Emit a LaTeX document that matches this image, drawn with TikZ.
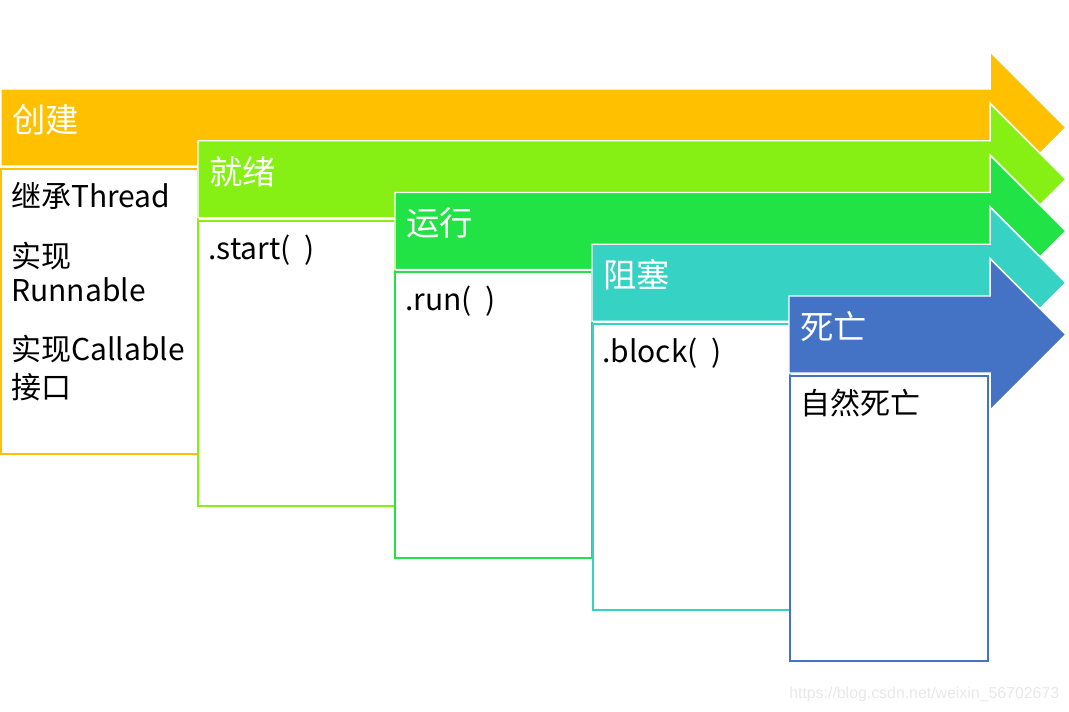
\documentclass[tikz,border=0pt]{standalone}
\usepackage{fontspec}
\setmainfont{Noto Sans CJK SC}
\newfontfamily\wmfont{Liberation Sans}
\definecolor{cA}{HTML}{FFC000}
\definecolor{cB}{HTML}{86F014}
\definecolor{cC}{HTML}{22E346}
\definecolor{cD}{HTML}{36D3C5}
\definecolor{cE}{HTML}{4472C4}
\newcommand{\pgap}{\hspace{0.45em}}
\begin{document}
\begin{tikzpicture}[x=0.75pt,y=-0.75pt,
  band/.style={draw=white, line width=1.1pt, line join=miter},
  stagebox/.style={draw, line width=1.5pt, fill=white, inner sep=0pt, outer sep=0pt,
    minimum width=147.75pt, minimum height=213.75pt, anchor=north west},
  title/.style={text=white, font=\fontsize{25}{25}\selectfont, anchor=base west, inner sep=0pt},
  body/.style={text=black, font=\fontsize{22.5}{26}\selectfont, anchor=base west, inner sep=0pt},
  wm/.style={text=black!9, font=\wmfont\fontsize{11.9}{12}\selectfont, anchor=base west, inner sep=0pt}]
\useasboundingbox (0,0) rectangle (1069,712);
% stage 1
\fill[cA, band] (1,89) -- (990,89) -- (990,51.5) -- (1066,127.5) -- (990,203.5) -- (990,166) -- (1,166) -- cycle;
\node[title] (h1) at (12,132.5) {创建};
\node[stagebox, draw=cA] (b1) at (1,169) {};
\node[body] (t1a) at (11,208) {继承Thread};
\node[body] (t1b) at (11,268) {实现};
\node[body] (t1c) at (11,302) {Runnable};
\node[body] (t1d) at (11,360) {实现Callable};
\node[body] (t1e) at (11,398) {接口};
% stage 2
\fill[cB, band] (198,140.75) -- (990,140.75) -- (990,103.25) -- (1066,179.25) -- (990,255.25) -- (990,217.75) -- (198,217.75) -- cycle;
\node[title] (h2) at (209,184.25) {就绪};
\node[stagebox, draw=cB] (b2) at (197.5,221) {};
\node[body] (t2) at (208,260) {.start(\pgap)};
% stage 3
\fill[cC, band] (395,192.5) -- (990,192.5) -- (990,155) -- (1066,231) -- (990,307) -- (990,269.5) -- (395,269.5) -- cycle;
\node[title] (h3) at (406,236) {运行};
\node[stagebox, draw=cC] (b3) at (395,272.5) {};
\node[body] (t3) at (405,311) {.run(\pgap)};
% stage 4
\fill[cD, band] (592,244.25) -- (990,244.25) -- (990,206.75) -- (1066,282.75) -- (990,358.75) -- (990,321.25) -- (592,321.25) -- cycle;
\node[title] (h4) at (603,287.75) {阻塞};
\node[stagebox, draw=cD] (b4) at (592.5,324.5) {};
\node[body] (t4) at (602,363) {.block(\pgap)};
% stage 5
\fill[cE, band] (789,296) -- (990,296) -- (990,258.5) -- (1066,334.5) -- (990,410.5) -- (990,373) -- (789,373) -- cycle;
\node[title] (h5) at (800,339.5) {死亡};
\node[stagebox, draw=cE, minimum width=148.5pt] (b5) at (789.5,376) {};
\node[body] (t5) at (800,414) {自然死亡};
% watermark
\node[wm] (w) at (789,698) {https://blog.csdn.net/weixin\_56702673};
\end{tikzpicture}
\end{document}
